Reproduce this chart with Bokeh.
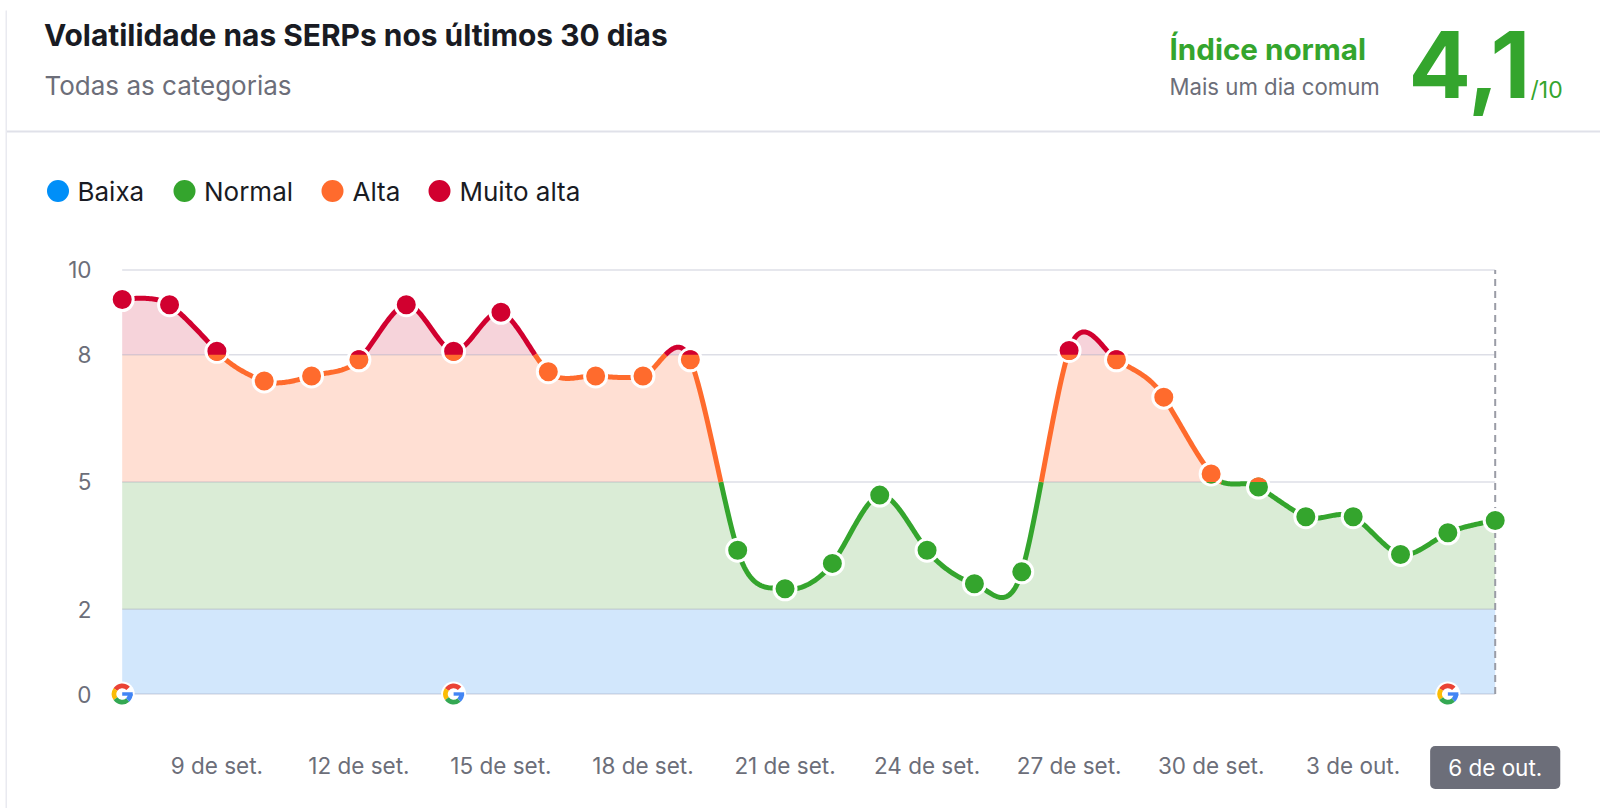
import numpy as np
from bokeh.embed import file_html
from bokeh.resources import INLINE
from bokeh.plotting import figure
from bokeh.models import Range1d, FixedTicker, Label, BoxAnnotation, ColumnDataSource

# ---- data ----
days = list(range(30))
scores = [9.3, 9.18, 8.08, 7.38, 7.5, 7.88, 9.18, 8.08, 9.0, 7.6,
          7.5, 7.5, 7.88, 3.39, 2.48, 3.08, 4.69, 3.39, 2.6, 2.88,
          8.1, 7.88, 7.0, 5.19, 4.88, 4.18, 4.18, 3.29, 3.8, 4.09]
x_tick_days = [2, 5, 8, 11, 14, 17, 20, 23, 26]
x_tick_labels = ["9 de set.", "12 de set.", "15 de set.", "18 de set.", "21 de set.",
                 "24 de set.", "27 de set.", "30 de set.", "3 de out."]
last_day_label = "6 de out."
y_ticks = [0, 2, 5, 8, 10]
google_update_days = [0, 7, 28]
level_names = ["Baixa", "Normal", "Alta", "Muito alta"]
level_low = [0, 2, 5, 8]
level_high = [2, 5, 8, 10]
level_colors = ["#008ff8", "#34a52d", "#ff6b2d", "#d1002f"]
band_colors = ["#d2e7fc", "#daecd6", "#ffdfd3", "#f6d3da"]

INK = "#191b23"
GRAY = "#6c6e79"
GRID = "#e0e1e9"

# ---- layout: pixel positions of the data origin on the canvas ----
FW, FH = 1600, 808
X0, X29, Y0, Y10 = 121.7, 1494.7, 693.5, 269.4
KX = (X29 - X0) / 29
KY = (Y0 - Y10) / 10


def px(c):
    return (c - X0) / KX


def py(c):
    return (Y0 - c) / KY


p = figure(width=FW, height=FH, output_backend="svg", toolbar_location=None,
           x_range=Range1d(px(0), px(FW)), y_range=Range1d(py(FH), py(0)),
           min_border=0)
p.outline_line_color = None
p.grid.visible = False
p.background_fill_color = "white"
p.border_fill_color = "white"

# axes
for ax, ticks in ((p.yaxis[0], y_ticks), (p.xaxis[0], x_tick_days)):
    ax.ticker = FixedTicker(ticks=ticks)
    ax.axis_line_color = None
    ax.major_tick_line_color = None
    ax.minor_tick_line_color = None
    ax.major_label_text_font = "Inter"
    ax.major_label_text_font_size = "22.5px"
    ax.major_label_text_color = GRAY
p.yaxis[0].fixed_location = px(105)
p.yaxis[0].major_label_standoff = 8
p.xaxis[0].fixed_location = py(736)
p.xaxis[0].major_label_standoff = 9
p.xaxis[0].major_label_overrides = dict(zip(x_tick_days, x_tick_labels))


# ---- spline through the values ----
def spline(values, hx=0.3, hy=0.4):
    n = len(values)
    xs, ys = [], []
    for i in range(n - 1):
        m0 = (values[i + 1] - values[i - 1]) / 2 if i > 0 else None
        m1 = (values[i + 2] - values[i]) / 2 if i + 2 < n else None
        c1x = i + hx if m0 is not None else i
        c1y = values[i] + hy * m0 if m0 is not None else values[i]
        c2x = i + 1 - hx if m1 is not None else i + 1
        c2y = values[i + 1] - hy * m1 if m1 is not None else values[i + 1]
        t = np.linspace(0, 1, 41)[:-1] if i < n - 2 else np.linspace(0, 1, 41)
        b0, b1, b2, b3 = (1 - t) ** 3, 3 * (1 - t) ** 2 * t, 3 * (1 - t) * t ** 2, t ** 3
        xs.append(b0 * i + b1 * c1x + b2 * c2x + b3 * (i + 1))
        ys.append(b0 * values[i] + b1 * c1y + b2 * c2y + b3 * values[i + 1])
    return np.concatenate(xs), np.concatenate(ys)


cx, cy = spline(scores)
# add exact crossing points of the level limits
out_x, out_y = [cx[0]], [cy[0]]
for a in range(len(cx) - 1):
    crossings = []
    for lim in level_low[1:]:
        if (cy[a] - lim) * (cy[a + 1] - lim) < 0:
            crossings.append((lim - cy[a]) / (cy[a + 1] - cy[a]))
    for f in sorted(crossings):
        out_x.append(cx[a] + f * (cx[a + 1] - cx[a]))
        out_y.append(cy[a] + f * (cy[a + 1] - cy[a]))
    out_x.append(cx[a + 1])
    out_y.append(cy[a + 1])
cx, cy = np.array(out_x), np.array(out_y)

# bands under the curve
for lo, hi, col in zip(level_low, level_high, band_colors):
    p.varea(x=cx, y1=np.full_like(cy, lo), y2=np.clip(cy, lo, hi), fill_color=col)

# grid and last-day marker
p.segment(x0=[days[0]] * len(y_ticks), x1=[days[-1]] * len(y_ticks), y0=y_ticks, y1=y_ticks,
          line_color="#8f93ab", line_alpha=0.3, line_width=1.5)
p.segment(x0=[days[-1]], x1=[days[-1]], y0=[y_ticks[0]], y1=[y_ticks[-1]],
          line_color="#9a9ca6", line_width=2, line_dash="7 5")

# coloured line
for lo, hi, col in zip(level_low, level_high, level_colors):
    ly = np.where((cy >= lo - 1e-9) & (cy <= hi + 1e-9), cy, np.nan)
    p.line(cx, ly, line_color=col, line_width=5, line_join="round", line_cap="butt")


# dots
def level_of(v):
    for k in range(len(level_low)):
        if v <= level_high[k]:
            return k
    return len(level_low) - 1


dot_source = ColumnDataSource(dict(x=days, y=scores, c=[level_colors[level_of(v)] for v in scores]))
p.scatter("x", "y", source=dot_source, size=22, fill_color="c", line_color="white", line_width=3)

# part of a dot that reaches into the next level
R = 9.6
cap_xs, cap_ys, cap_cs = [], [], []
for d, v in zip(days, scores):
    k = level_of(v)
    for lim, other in ((level_low[k], k - 1), (level_high[k], k + 1)):
        if other < 0 or other >= len(level_low):
            continue
        gap = (lim - v) * KY
        if abs(gap) >= R:
            continue
        phi = np.arcsin(gap / R)
        th = np.linspace(phi, np.pi - phi, 30) if gap > 0 else np.linspace(np.pi - phi, 2 * np.pi + phi, 30)
        cap_xs.append(d + R * np.cos(th) / KX)
        cap_ys.append(v + R * np.sin(th) / KY)
        cap_cs.append(level_colors[other])
p.patches(cap_xs, cap_ys, fill_color=cap_cs, line_color=None)

# Google update marks
gx = google_update_days
gy = [y_ticks[0]] * len(gx)
p.scatter(gx, gy, size=25, fill_color="white", line_color=None)
G_PARTS = [(0.75, 2.55, "#ea4335"), (2.55, 3.75, "#fbbc05"), (3.75, 5.45, "#34a853"), (5.45, 6.28, "#4285f4")]
for a0, a1, col in G_PARTS:
    p.annular_wedge(gx, gy, inner_radius=5.8, outer_radius=10.5, inner_radius_units="screen",
                    outer_radius_units="screen", start_angle=a0, end_angle=a1,
                    fill_color=col, line_color=None)
p.hbar(y=gy, height=3.4 / KY, left=gx, right=[g + 10.5 / KX for g in gx], fill_color="#4285f4", line_color=None)


# texts: y is the wanted baseline on the canvas
def text(s, x, y, size, color, bold=False, align="left", baseline="alphabetic"):
    if baseline == "alphabetic":
        y = y - 0.36 * size
    lab = Label(x=px(x), y=py(y), text=s, text_font="Inter", text_font_size=f"{size}px",
                text_color=color, text_font_style="bold" if bold else "normal",
                text_align=align, text_baseline=baseline)
    p.add_layout(lab)
    return lab


text("Volatilidade nas SERPs nos últimos 30 dias", 43.5, 45, 29.9, INK, bold=True)
text("Todas as categorias", 44, 94, 26, GRAY)
text("Índice normal", 1169, 59, 29.6, level_colors[1], bold=True)
text("Mais um dia comum", 1169, 94, 22.2, GRAY)
text("4,1", 1408, 97.5, 92.5, level_colors[1], bold=True)
text("/10", 1530, 98, 23, level_colors[1])

badge = text(last_day_label, X29, 767, 22.5, "white", align="center", baseline="middle")
badge.background_fill_color = GRAY
badge.border_radius = 5
badge.padding = (18, 8)

# header rule and card edge
p.add_layout(BoxAnnotation(left=px(6), right=px(FW), top=py(130), bottom=py(132),
                           fill_color=GRID, fill_alpha=1, line_color=None))
p.add_layout(BoxAnnotation(left=px(5), right=px(6.5), top=py(10), bottom=py(FH),
                           fill_color="#e9eaf0", fill_alpha=1, line_color=None))

# legend
LEGEND_DOT_X = [57.5, 184, 332, 439]
LEGEND_TEXT_X = [77, 203.5, 352, 459]
LEGEND_Y = 190.5
p.scatter([px(v) for v in LEGEND_DOT_X], [py(LEGEND_Y)] * 4, size=22, fill_color=level_colors, line_color=None)
for name, tx in zip(level_names, LEGEND_TEXT_X):
    text(name, tx, LEGEND_Y, 26, INK, baseline="middle")

open("out.html", "w").write(file_html(p, INLINE))
